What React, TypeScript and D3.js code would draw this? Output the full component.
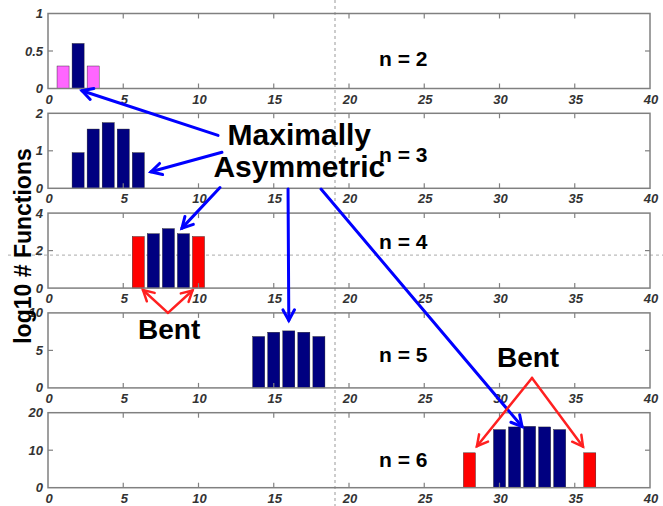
import React from 'react';
import * as d3 from 'd3';

// chart values
const nValues = [2, 3, 4, 5, 6];
const yMaxes = [1, 2, 4, 10, 20];
const yTickLists = [[0, 0.5, 1], [0, 1, 2], [0, 2, 4], [0, 5, 10], [0, 10, 20]];
const xTickValues = [0, 5, 10, 15, 20, 25, 30, 35, 40];

const n2Pos = [1, 2, 3];
const n2Vals = [0.3, 0.6, 0.3];
const n2Kind = ['pink', 'navy', 'pink'];

const n3Pos = [2, 3, 4, 5, 6];
const n3Vals = [0.95, 1.58, 1.75, 1.58, 0.95];
const n3Kind = ['navy', 'navy', 'navy', 'navy', 'navy'];

const n4Pos = [6, 7, 8, 9, 10];
const n4Vals = [2.75, 2.9, 3.17, 2.9, 2.75];
const n4Kind = ['red', 'navy', 'navy', 'navy', 'red'];

const n5Pos = [14, 15, 16, 17, 18];
const n5Vals = [6.85, 7.42, 7.6, 7.42, 6.85];
const n5Kind = ['navy', 'navy', 'navy', 'navy', 'navy'];

const n6Pos = [28, 30, 31, 32, 33, 34, 36];
const n6Vals = [9.3, 15.5, 16.2, 16.35, 16.2, 15.5, 9.3];
const n6Kind = ['red', 'navy', 'navy', 'navy', 'navy', 'navy', 'red'];

const barPos = [n2Pos, n3Pos, n4Pos, n5Pos, n6Pos];
const barVals = [n2Vals, n3Vals, n4Vals, n5Vals, n6Vals];
const barKind = [n2Kind, n3Kind, n4Kind, n5Kind, n6Kind];

// "n = k" labels, in data coords of each panel
const labelX = 22;
const labelY = [0.3, 0.69, 2.08, 3.5, 5.6];

// annotations: [x, panel, y]
type Pt = [number, number, number];
const blueArrows: [Pt, Pt][] = [
  [[11.3, 1, 1.41], [2.26, 0, -0.03]],
  [[11.56, 1, 0.96], [6.84, 1, 0.44]],
  [[11.43, 1, 0.02], [8.9, 2, 3.2]],
  [[15.95, 1, -0.02], [16.0, 3, 9.0]],
  [[18.14, 1, -0.02], [31.5, 4, 16.3]],
];
const redArrows: [Pt, Pt][] = [
  [[7.97, 3, 10], [6.31, 2, -0.1]],
  [[7.97, 3, 10], [9.6, 2, -0.13]],
  [[32.16, 3, 1.33], [28.5, 4, 11.07]],
  [[32.16, 3, 1.33], [35.55, 4, 10.93]],
];
const bigTexts: { t: string; at: Pt; size: number }[] = [
  { t: 'Maximally', at: [16.7, 1, 1.15], size: 30 },
  { t: 'Asymmetric', at: [16.7, 1, 0.29], size: 30 },
  { t: 'Bent', at: [8.05, 3, 6.53], size: 28 },
  { t: 'Bent', at: [31.9, 3, 2.84], size: 28 },
];
// screen guide lines
const guideX = 19.07;
const guideY: [number, number] = [2, 1.76];

const W = 663;
const H = 506;
const colors: Record<string, string> = { navy: '#000080', red: '#ff0000', pink: '#ff66ff' };
const font = '"Liberation Sans", Arial, sans-serif';
const boxColor = '#808080';

const x = d3.scaleLinear().domain([0, 40]).range([48, 650]);
const panelH = 75;
const panelTop = (i: number) => 13.5 + i * 99.8;
const yScales = yMaxes.map((m, i) =>
  d3.scaleLinear().domain([0, m]).range([panelTop(i) + panelH, panelTop(i)])
);
const pt = (p: Pt) => [x(p[0]), yScales[p[1]](p[2])];

function Arrow({ a, b, color, w }: { a: Pt; b: Pt; color: string; w: number }) {
  const [x1, y1] = pt(a);
  const [x2, y2] = pt(b);
  const ang = Math.atan2(y2 - y1, x2 - x1);
  const L = 12;
  const head = [ang + Math.PI - 0.5, ang + Math.PI + 0.5].map(t => [x2 + L * Math.cos(t), y2 + L * Math.sin(t)]);
  const path = d3.path();
  path.moveTo(head[0][0], head[0][1]);
  path.lineTo(x2, y2);
  path.lineTo(head[1][0], head[1][1]);
  return (
    <g stroke={color} strokeWidth={w} fill="none" strokeLinecap="round">
      <line x1={x1} y1={y1} x2={x2} y2={y2} />
      <path d={path.toString()} strokeLinejoin="miter" />
    </g>
  );
}

function Panel({ i }: { i: number }) {
  const y = yScales[i];
  const top = panelTop(i);
  const bottom = top + panelH;
  const bw = x(0.8) - x(0);
  const tl = 5;
  return (
    <g>
      {barPos[i].map((p, j) => (
        <rect key={j} x={x(p) - bw / 2} y={y(barVals[i][j])} width={bw}
          height={bottom - y(barVals[i][j])} fill={colors[barKind[i][j]]}
          stroke="#1a1a1a" strokeWidth={0.4} />
      ))}
      <rect x={x(0)} y={top} width={x(40) - x(0)} height={panelH} fill="none" stroke={boxColor} strokeWidth={1.5} />
      {xTickValues.slice(1, -1).map(v => (
        <g key={v} stroke={boxColor} strokeWidth={1.2}>
          <line x1={x(v)} x2={x(v)} y1={bottom} y2={bottom - tl} />
          <line x1={x(v)} x2={x(v)} y1={top} y2={top + tl} />
        </g>
      ))}
      {yTickLists[i].slice(1, -1).map(v => (
        <g key={v} stroke={boxColor} strokeWidth={1.2}>
          <line x1={x(0)} x2={x(0) + tl} y1={y(v)} y2={y(v)} />
          <line x1={x(40)} x2={x(40) - tl} y1={y(v)} y2={y(v)} />
        </g>
      ))}
      {xTickValues.map(v => (
        <text key={v} x={x(v) + 1} y={bottom + 15} textAnchor="middle" fontFamily={font}
          fontWeight="bold" fontStyle="italic" fontSize={13} fill="#333">{v}</text>
      ))}
      {yTickLists[i].map(v => (
        <text key={v} x={43} y={y(v) + 4.5} textAnchor="end" fontFamily={font}
          fontWeight="bold" fontStyle="italic" fontSize={13} fill="#333">{v}</text>
      ))}
      <text x={x(labelX)} y={y(labelY[i])} fontFamily={font} fontWeight="bold" fontSize={21} fill="#000">
        {`n = ${nValues[i]}`}
      </text>
    </g>
  );
}

export default function App() {
  const gx = x(guideX);
  const gy = yScales[guideY[0]](guideY[1]);
  return (
    <svg width={W} height={H} style={{ position: 'absolute', left: 0, top: 0, background: '#fff' }}>
      <rect width={W} height={H} fill="#fff" />
      <line x1={gx} x2={gx} y1={0} y2={H} stroke="#999" strokeWidth={1} strokeDasharray="3,3" />
      <line x1={8} x2={W} y1={gy} y2={gy} stroke="#aaa" strokeWidth={1} strokeDasharray="3,3" />
      {nValues.map((_, i) => <Panel key={i} i={i} />)}
      <text transform="translate(31,246) rotate(-90)" textAnchor="middle" fontFamily={font}
        fontWeight="bold" fontSize={23} fill="#000">log10 # Functions</text>
      {blueArrows.map(([a, b], k) => <Arrow key={k} a={a} b={b} color="#0000ff" w={3} />)}
      {redArrows.map(([a, b], k) => <Arrow key={k} a={a} b={b} color="#ff2020" w={2.5} />)}
      {bigTexts.map((t, k) => {
        const [tx, ty] = pt(t.at);
        return (
          <text key={k} x={tx} y={ty} textAnchor="middle" fontFamily={font} fontWeight="bold"
            fontSize={t.size} fill="#000">{t.t}</text>
        );
      })}
    </svg>
  );
}
